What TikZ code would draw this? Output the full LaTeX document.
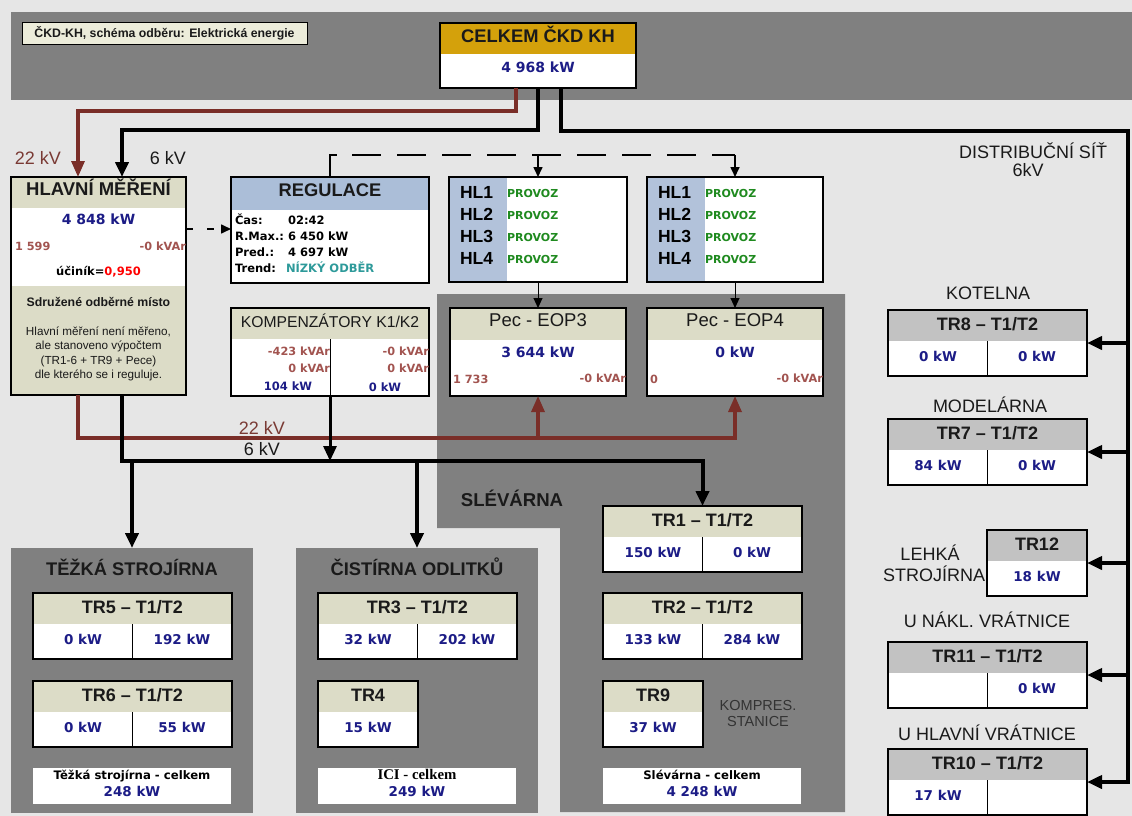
\documentclass[tikz,border=0pt]{standalone}
\usepackage{fontspec}
\setmainfont{Liberation Sans}
\newfontfamily\tahoma{DejaVu Sans}
\newfontfamily\serifbox{Liberation Serif}
\usetikzlibrary{arrows.meta,positioning}

\definecolor{pagebg}{HTML}{E6E6E6}
\definecolor{darkarea}{HTML}{808080}
\definecolor{khaki}{HTML}{DCDCC7}
\definecolor{steel}{HTML}{ABBED8}
\definecolor{steelhl}{HTML}{B2C2DA}
\definecolor{gold}{HTML}{D4A10B}
\definecolor{greyhead}{HTML}{C2C2C2}
\definecolor{titlebg}{HTML}{ECECDA}
\definecolor{ink}{HTML}{1A1A1A}
\definecolor{graytext}{HTML}{333333}
\definecolor{kwblue}{HTML}{1C1C86}
\definecolor{kvar}{HTML}{A25450}
\definecolor{line22}{HTML}{7A2E28}
\definecolor{kvtext}{HTML}{7A3A34}
\definecolor{provoz}{HTML}{1F8A1F}
\definecolor{trend}{HTML}{2E9A9A}

% transformer box with two halves
\newcommand{\trbox}[7]{%
  \node[boxnode,minimum width=199pt] (#1) at (#2,#3) {};
  \fill[#7] (#1.north west) rectangle ([yshift=-31pt]#1.north east);
  \draw[line width=1pt] ([yshift=-31pt]#1.north) -- (#1.south);
  \draw[frame] (#1.north west) rectangle (#1.south east);
  \node[trtitle] at ([yshift=-16.5pt]#1.north) {#4};
  \node[kw] at ([xshift=50pt,yshift=-47.5pt]#1.north west) {#5};
  \node[kw] at ([xshift=-50pt,yshift=-47.5pt]#1.north east) {#6};
}
% single transformer box
\newcommand{\halfbox}[6]{%
  \node[boxnode,minimum width=100pt] (#1) at (#2,#3) {};
  \fill[#6] (#1.north west) rectangle ([yshift=-31pt]#1.north east);
  \draw[frame] (#1.north west) rectangle (#1.south east);
  \node[trtitle] at ([yshift=-16.5pt]#1.north) {#4};
  \node[kw] at ([yshift=-47.5pt]#1.north) {#5};
}
% furnace box
\newcommand{\pecbox}[5]{%
  \node[boxnode,minimum width=176pt,minimum height=88pt] (#1) at (#2,308) {};
  \fill[khaki] (#1.north west) rectangle ([yshift=-32pt]#1.north east);
  \draw[frame] (#1.north west) rectangle (#1.south east);
  \node[txt,text=ink,font=\fontsize{18.5}{21}\selectfont] at ([yshift=-15pt]#1.north) {#3};
  \node[kwbig] at ([yshift=-46pt]#1.north) {#4};
  \node[kvarv,anchor=west] at ([xshift=3pt,yshift=-72pt]#1.north west) {#5};
  \node[kvarv,anchor=east] at ([yshift=-71pt]#1.north east) {-0 kVAr};
}
% furnace switch box
\newcommand{\hlbox}[3]{%
  \node[boxnode,minimum width=#3,minimum height=105pt] (#1) at (#2,177) {};
  \fill[steelhl] (#1.north west) rectangle ([xshift=58pt]#1.south west);
  \draw[frame] (#1.north west) rectangle (#1.south east);
  \foreach \i/\dy in {1/18,2/40,3/62,4/84} {
    \node[hl] at ([xshift=11pt,yshift=-\dy pt]#1.north west) {HL\i};
    \node[provoz] at ([xshift=58pt,yshift=-\dy pt]#1.north west) {PROVOZ};
  }
}

\begin{document}
\begin{tikzpicture}[x=1pt,y=-1pt,
  every node/.style={inner sep=0pt,outer sep=0pt},
  txt/.style={text height=.72em,text depth=0pt},
  frame/.style={draw=black,line width=1.6pt},
  boxnode/.style={anchor=north west,fill=white,minimum height=66pt},
  area/.style={anchor=north west,fill=darkarea,minimum width=242pt,minimum height=265pt},
  sumbox/.style={anchor=north west,fill=white,minimum width=198pt,minimum height=36pt},
  titlebox/.style={anchor=north west,draw=black,line width=1pt,fill=titlebg,minimum width=285pt,minimum height=22pt,txt,text=ink,font=\bfseries\fontsize{12.3}{14}\selectfont},
  head/.style={txt,text=ink,font=\bfseries\fontsize{18.3}{21}\selectfont},
  trtitle/.style={txt,text=ink,font=\bfseries\fontsize{18}{21}\selectfont},
  kw/.style={txt,text=kwblue,font=\tahoma\bfseries\fontsize{13.5}{16}\selectfont},
  kwbig/.style={kw,font=\tahoma\bfseries\fontsize{14}{17}\selectfont},
  kwsmall/.style={kw,font=\tahoma\bfseries\fontsize{11.5}{14}\selectfont},
  kvarv/.style={txt,text=kvar,font=\tahoma\bfseries\fontsize{11.3}{14}\selectfont},
  reg/.style={txt,anchor=west,text=black,font=\tahoma\bfseries\fontsize{11.5}{14}\selectfont},
  lbl/.style={txt,text=ink,font=\fontsize{18}{21}\selectfont},
  note/.style={txt,text=ink,font=\fontsize{11.7}{14}\selectfont},
  sumlbl/.style={txt,text=black,font=\tahoma\bfseries\fontsize{11.7}{13}\selectfont},
  hl/.style={txt,anchor=west,text=black,font=\bfseries\fontsize{17.5}{20}\selectfont},
  provoz/.style={txt,anchor=west,yshift=1.5pt,text=provoz,font=\tahoma\bfseries\fontsize{11}{13}\selectfont},
  bus6/.style={line width=4pt,-{Triangle[length=15pt,width=13pt]}},
  red22/.style={draw=line22,line width=3.2pt,-{Triangle[length=16pt,width=13pt]}},
  ctrl/.style={line width=1.6pt},
  tip/.style={-{Triangle[length=10pt,width=9pt]}}]

  % backdrop
  \path[use as bounding box] (0,0) rectangle (1132,816);
  \fill[pagebg] (0,0) rectangle (1132,816);
  \fill[darkarea] (11,12) rectangle (1132,100);
  \node[area] (tezka) at (11,548) {};
  \node[area] (cistirna) at (296,548) {};
  \fill[darkarea] (437,294) -- (845,294) -- (845,812) -- (560,812)
    -- (560,528) -- (437,528) -- cycle;

  % header
  \node[titlebox] (titul) at (22,23) {ČKD-KH, schéma odběru: Elektrická energie};
  \node[boxnode,minimum width=196pt,minimum height=65pt] (celkem) at (440,23) {};
  \fill[gold] (celkem.north west) rectangle ([yshift=-31pt]celkem.north east);
  \draw[frame] (celkem.north west) rectangle (celkem.south east);
  \node[head] at ([yshift=-16pt]celkem.north) {CELKEM ČKD KH};
  \node[kwbig] at ([yshift=-46pt]celkem.north) {4 968 kW};

  % main metering
  \node[boxnode,minimum width=175pt,minimum height=218pt,fill=khaki] (hlavni) at (11,177) {};
  \fill[white] ([yshift=-31pt]hlavni.north west) rectangle ([yshift=-109pt]hlavni.north east);
  \draw[frame] (hlavni.north west) rectangle (hlavni.south east);
  \node[head,font=\bfseries\fontsize{18.5}{21}\selectfont] at ([yshift=-15pt]hlavni.north) {HLAVNÍ MĚŘENÍ};
  \node[kwbig] at ([yshift=-44pt]hlavni.north) {4 848 kW};
  \node[kvarv,anchor=west] at ([xshift=4pt,yshift=-70pt]hlavni.north west) {1 599};
  \node[kvarv,anchor=east] at ([yshift=-70pt]hlavni.north east) {-0 kVAr};
  \node[txt,font=\tahoma\bfseries\fontsize{11.5}{13}\selectfont] at ([yshift=-95pt]hlavni.north) {účiník=\textcolor{red}{0,950}};
  \node[note,font=\bfseries\fontsize{12.3}{14}\selectfont] at ([yshift=-126pt]hlavni.north) {Sdružené odběrné místo};
  \node[note] at ([yshift=-155pt]hlavni.north) {Hlavní měření není měřeno,};
  \node[note] at ([yshift=-169pt]hlavni.north) {ale stanoveno výpočtem};
  \node[note] at ([yshift=-184pt]hlavni.north) {(TR1-6 + TR9 + Pece)};
  \node[note] at ([yshift=-198pt]hlavni.north) {dle kterého se i reguluje.};
  \node[lbl,text=kvtext] at (38,161) {22 kV};
  \node[lbl] at (168,161) {6 kV};

  % regulation
  \node[boxnode,minimum width=198pt,minimum height=106pt] (regulace) at (231,177) {};
  \fill[steel] (regulace.north west) rectangle ([yshift=-33pt]regulace.north east);
  \draw[frame] (regulace.north west) rectangle (regulace.south east);
  \node[head] at ([yshift=-16pt]regulace.north) {REGULACE};
  \foreach \k/\v/\dy in {Čas:/02:42/44, R.Max.:/6 450 kW/60, Pred.:/4 697 kW/76} {
    \node[reg] at ([xshift=4pt,yshift=-\dy pt]regulace.north west) {\k};
    \node[reg] at ([xshift=57pt,yshift=-\dy pt]regulace.north west) {\v};
  }
  \node[reg] at ([xshift=4pt,yshift=-92pt]regulace.north west) {Trend:};
  \node[reg,text=trend] at ([xshift=55pt,yshift=-92pt]regulace.north west) {NÍZKÝ ODBĚR};

  % compensators
  \node[boxnode,minimum width=198pt,minimum height=88pt] (komp) at (231,308) {};
  \fill[khaki] (komp.north west) rectangle ([yshift=-31pt]komp.north east);
  \draw[line width=1pt] ([yshift=-31pt]komp.north) -- (komp.south);
  \draw[frame] (komp.north west) rectangle (komp.south east);
  \node[txt,text=ink,font=\fontsize{15.7}{18}\selectfont] at ([yshift=-16pt]komp.north) {KOMPENZÁTORY K1/K2};
  \node[kvarv,anchor=east] at ([yshift=-44pt]komp.north) {-423 kVAr};
  \node[kvarv,anchor=east] at ([yshift=-61pt]komp.north) {0 kVAr};
  \node[kwsmall] at ([xshift=57pt,yshift=-79pt]komp.north west) {104 kW};
  \node[kvarv,anchor=east] at ([yshift=-44pt]komp.north east) {-0 kVAr};
  \node[kvarv,anchor=east] at ([yshift=-61pt]komp.north east) {0 kVAr};
  \node[kwsmall] at ([xshift=-44pt,yshift=-80pt]komp.north east) {0 kW};

  % furnaces
  \hlbox{hla}{449}{178pt}
  \hlbox{hlb}{647}{176pt}
  \pecbox{peca}{450}{Pec - EOP3}{3 644 kW}{1 733}
  \pecbox{pecb}{647}{Pec - EOP4}{0 kW}{0}
  \node[head,font=\bfseries\fontsize{18.6}{21}\selectfont] (slevlbl) at (512,503) {SLÉVÁRNA};

  % workshops
  \node[head] at ([yshift=-24pt]tezka.north) {TĚŽKÁ STROJÍRNA};
  \trbox{tr5}{33}{593}{TR5 – T1/T2}{0 kW}{192 kW}{khaki}
  \trbox{tr6}{33}{681}{TR6 – T1/T2}{0 kW}{55 kW}{khaki}
  \node[sumbox] (tezkasum) at (33,768) {};
  \node[sumlbl] at ([yshift=-8pt]tezkasum.north) {Těžká strojírna - celkem};
  \node[kw] at ([yshift=-25pt]tezkasum.north) {248 kW};

  \node[head] at ([yshift=-24pt]cistirna.north) {ČISTÍRNA ODLITKŮ};
  \trbox{tr3}{318}{593}{TR3 – T1/T2}{32 kW}{202 kW}{khaki}
  \halfbox{tr4}{318}{681}{TR4}{15 kW}{khaki}
  \node[sumbox] (icisum) at (318,768) {};
  \node[sumlbl,font=\serifbox\bfseries\fontsize{14.8}{16}\selectfont] at ([yshift=-8pt]icisum.north) {ICI - celkem};
  \node[kw] at ([yshift=-25pt]icisum.north) {249 kW};

  \trbox{tr1}{603}{506}{TR1 – T1/T2}{150 kW}{0 kW}{khaki}
  \trbox{tr2}{603}{593}{TR2 – T1/T2}{133 kW}{284 kW}{khaki}
  \halfbox{tr9}{603}{681}{TR9}{37 kW}{khaki}
  \node[txt,text=graytext,font=\fontsize{14.5}{17}\selectfont] at (758,707) {KOMPRES.};
  \node[txt,text=graytext,font=\fontsize{14.5}{17}\selectfont] at (758,723) {STANICE};
  \node[sumbox] (slevsum) at (603,768) {};
  \node[sumlbl] at ([yshift=-8pt]slevsum.north) {Slévárna - celkem};
  \node[kw] at ([yshift=-25pt]slevsum.north) {4 248 kW};

  % distribution network
  \node[lbl] at (1033,155) {DISTRIBUČNÍ SÍŤ};
  \node[lbl] at (1028,173) {6kV};
  \node[lbl] at (988,295.5) {KOTELNA};
  \trbox{tr8}{888}{310}{TR8 – T1/T2}{0 kW}{0 kW}{greyhead}
  \node[lbl] at (990,408.5) {MODELÁRNA};
  \trbox{tr7}{888}{419}{TR7 – T1/T2}{84 kW}{0 kW}{greyhead}
  \node[lbl] at (930,557) {LEHKÁ};
  \node[lbl] at (934,578) {STROJÍRNA};
  \halfbox{tr12}{987}{530}{TR12}{18 kW}{greyhead}
  \node[lbl] at (987,624) {U NÁKL. VRÁTNICE};
  \trbox{tr11}{888}{642}{TR11 – T1/T2}{}{0 kW}{greyhead}
  \node[lbl] at (987,737) {U HLAVNÍ VRÁTNICE};
  \trbox{tr10}{888}{749}{TR10 – T1/T2}{17 kW}{}{greyhead}

  % feeders
  \coordinate (k22) at (78,111);
  \coordinate (k6) at (122,130);
  \coordinate (dist) at (1128,131);
  \coordinate (b22) at (78,438);
  \coordinate (b6) at (122,461);
  \coordinate (dreg) at (0,229);
  \coordinate (hlbus) at (330,155);
  \draw[red22] ([xshift=76pt]celkem.south west) |- (k22) -- (k22 |- hlavni.north);
  \draw[bus6] ([xshift=98pt]celkem.south west) |- (k6) -- (k6 |- hlavni.north);
  \draw[bus6] ([xshift=121pt]celkem.south west) |- (dist) |- (tr10.east);
  \foreach \t in {tr8,tr7,tr12,tr11}
    \draw[bus6] (dist |- \t.east) -- (\t.east);

  % 22 kV and 6 kV buses
  \draw[red22] (b22 |- hlavni.south) -- (b22) -| (pecb.south);
  \draw[red22] (peca.south |- b22) -- (peca.south);
  \node[lbl,text=kvtext] at (262,431) {22 kV};
  \draw[bus6] (b6 |- hlavni.south) -- (b6) -| (tr1.north);
  \draw[bus6] (tezka.north |- b6) -- (tezka.north);
  \draw[bus6] (cistirna.north |- b6) -- (cistirna.north);
  \draw[bus6,line width=3pt] (komp.south) -- (komp.south |- b6);
  \node[lbl] at (262,452) {6 kV};

  % control signals
  \draw[ctrl,tip,dash pattern=on 7pt off 14pt] (hlavni.east |- dreg) -- (regulace.west |- dreg);
  \draw[ctrl] (regulace.north) |- ([xshift=7pt]hlbus);
  \draw[ctrl,dash pattern=on 29pt off 16pt] ([xshift=22pt]hlbus) -- (hlb.north |- hlbus);
  \draw[ctrl,tip] (hla.north |- hlbus) -- (hla.north);
  \draw[ctrl,tip] (hlb.north |- hlbus) -- (hlb.north);
  \draw[line width=1pt,tip] (hla.south) -- (peca.north);
  \draw[line width=1pt,tip] (hlb.south) -- (pecb.north);
\end{tikzpicture}
\end{document}
